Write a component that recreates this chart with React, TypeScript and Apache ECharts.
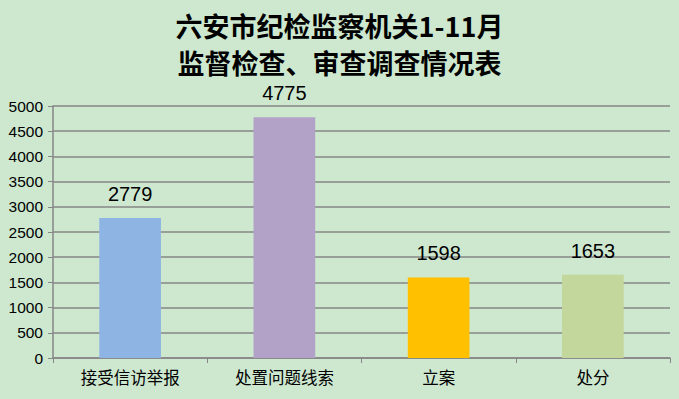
import React, { useEffect, useRef } from "react";
import * as echarts from "echarts";

const categories = ["接受信访举报", "处置问题线索", "立案", "处分"];
const values = [2779, 4775, 1598, 1653];
const barColors = ["#8eb4e3", "#b3a2c7", "#ffc000", "#c3d69b"];
const titleLines = ["六安市纪检监察机关1-11月", "监督检查、审查调查情况表"];

export default function App() {
  const ref = useRef<HTMLDivElement>(null);
  useEffect(() => {
    if (!ref.current) return;
    const chart = echarts.init(ref.current, null, { renderer: "svg" });
    const titleStyle = {
      fontFamily: "Noto Sans CJK SC",
      fontWeight: "bold",
      fontSize: 27,
      lineHeight: 27,
      color: "#000",
    };
    chart.setOption({
      animation: false,
      backgroundColor: "#cde8cf",
      title: titleLines.map((t, i) => ({
        text: t,
        left: "center",
        top: i === 0 ? 12 : 49,
        padding: 0,
        textStyle: titleStyle,
      })),
      grid: { left: 53, right: 9, top: 106, bottom: 41 },
      xAxis: {
        type: "category",
        data: categories,
        axisLine: { lineStyle: { color: "#868686", width: 1.5 } },
        axisTick: { show: true, length: 5, lineStyle: { color: "#868686" } },
        axisLabel: {
          color: "#000",
          fontSize: 16.5,
          fontFamily: "Noto Sans CJK SC",
          margin: 11,
        },
      },
      yAxis: {
        type: "value",
        min: 0,
        max: 5000,
        interval: 500,
        axisLine: { show: true, lineStyle: { color: "#868686", width: 1.5 } },
        axisTick: { show: true, length: 5, lineStyle: { color: "#868686" } },
        splitLine: { lineStyle: { color: "#868686", width: 1.5 } },
        axisLabel: {
          color: "#000",
          fontSize: 15.5,
          fontFamily: "Liberation Sans",
          margin: 10,
          formatter: (v: number) => String(v),
        },
      },
      series: [
        {
          type: "bar",
          data: values.map((v, i) => ({ value: v, itemStyle: { color: barColors[i] } })),
          barWidth: "40%",
          label: {
            show: true,
            position: "top",
            distance: 14,
            color: "#000",
            fontSize: 20,
            fontFamily: "Liberation Sans",
          },
        },
      ],
    });
    return () => chart.dispose();
  }, []);
  return <div ref={ref} style={{ width: 679, height: 399, position: "fixed", left: 0, top: 0 }} />;
}
